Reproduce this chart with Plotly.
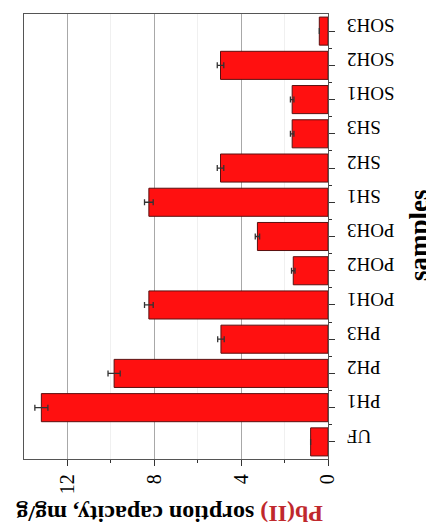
import plotly.graph_objects as go

categories = ["UF", "PH1", "PH2", "PH3", "POH1", "POH2", "POH3",
              "SH1", "SH2", "SH3", "SOH1", "SOH2", "SOH3"]
capacity = [0.8, 13.2, 9.85, 4.93, 8.25, 1.6, 3.25,
            8.25, 4.95, 1.65, 1.65, 4.95, 0.4]
errors = [0.0, 0.3, 0.28, 0.15, 0.2, 0.08, 0.1,
          0.2, 0.15, 0.08, 0.08, 0.15, 0.0]
value_ticks = [0, 4, 8, 12]

positions = list(range(len(categories)))

# the page body has an 8px margin, so the figure is laid out 8px smaller
PAGE = 8
W, H = 434 - PAGE, 526 - PAGE
ML, MT = 24 - PAGE, 14 - PAGE
MR = 50
MB = H - (459 - PAGE)
plot_w = W - ML - MR
plot_h = H - MT - MB
x_dom_end = (328 - PAGE - ML) / plot_w
label_pos = (347 - PAGE - ML) / plot_w

fig = go.Figure()
fig.add_trace(go.Bar(
    y=positions,
    x=capacity,
    orientation="h",
    width=0.82,
    marker=dict(color="#ff1010", line=dict(color="#5a1010", width=1)),
    error_x=dict(type="data", array=errors, visible=True,
                 color="#333333", thickness=1.3, width=3),
))
# invisible trace to carry the category tick labels on a second y axis
fig.add_trace(go.Scatter(y=positions, x=[0] * len(positions), yaxis="y2",
                         mode="markers", marker=dict(opacity=0),
                         hoverinfo="skip", showlegend=False))

serif = "Liberation Serif, Times New Roman, serif"
yrange = [-0.5, len(categories) - 0.5]

fig.update_layout(
    width=W, height=H,
    margin=dict(l=ML, r=MR, t=MT, b=MB),
    plot_bgcolor="white", paper_bgcolor="white",
    showlegend=False,
    font=dict(family=serif, color="black"),
    xaxis=dict(
        domain=[0, x_dom_end],
        range=[14, 0],
        tickvals=value_ticks,
        ticktext=[str(v) for v in value_ticks],
        tickangle=-90,
        tickfont=dict(size=20, family=serif, color="black"),
        ticks="outside", ticklen=6, tickcolor="#333",
        showline=True, linecolor="#555", linewidth=1.3, mirror=True,
        showgrid=True, gridcolor="#a8a8a8", gridwidth=1,
        zeroline=False, automargin=False,
        minor=dict(tickvals=[2, 6, 10], ticks="outside", ticklen=3,
                   tickcolor="#333", showgrid=True, gridcolor="#f0f0f0"),
    ),
    yaxis=dict(
        range=yrange,
        side="right",
        tickvals=positions,
        showticklabels=False,
        ticks="outside", ticklen=6, tickcolor="#333",
        showline=True, linecolor="#555", linewidth=1.3, mirror=True,
        showgrid=False, zeroline=False, automargin=False,
        minor=dict(tickvals=[p + 0.5 for p in positions[:-1]],
                   ticks="outside", ticklen=3, tickcolor="#333"),
    ),
    yaxis2=dict(
        range=yrange,
        overlaying="y",
        anchor="free",
        position=label_pos,
        side="left",
        tickvals=positions,
        ticktext=categories,
        tickangle=180,
        tickfont=dict(size=19, family=serif, color="black"),
        ticks="", showline=False, showgrid=False, zeroline=False,
        automargin=False,
    ),
    annotations=[
        dict(text="<b><span style='color:#c0282d'>Pb(II)</span> sorption capacity, mg/g</b>",
             xref="paper", yref="paper", x=(170 - PAGE - ML) / plot_w, y=0,
             xanchor="center", yanchor="middle", yshift=-(514 - 459),
             showarrow=False, textangle=180,
             font=dict(size=24, family=serif, color="black")),
        dict(text="<b>samples</b>",
             xref="paper", yref="paper", x=(419 - PAGE - ML) / plot_w,
             y=(459 - 235) / plot_h,
             xanchor="center", yanchor="middle",
             showarrow=False, textangle=-90,
             font=dict(size=27, family=serif, color="black")),
    ],
)

fig.write_html("out.html")
